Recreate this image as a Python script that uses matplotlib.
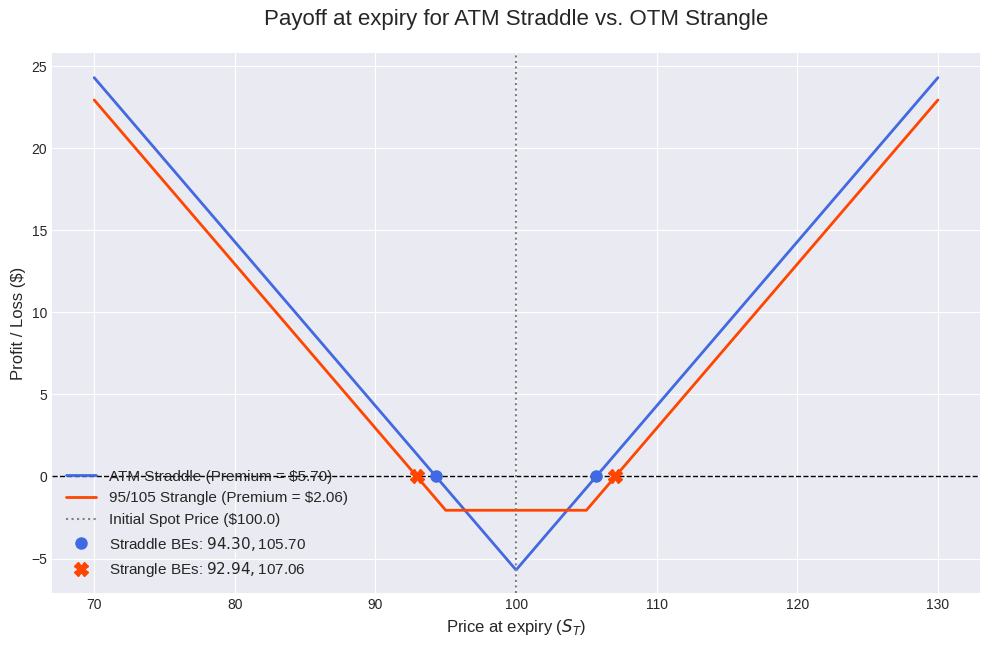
import numpy as np
import matplotlib as mp
mp.use('Agg')
import matplotlib.pyplot as plt

plt.style.use('seaborn-v0_8-darkgrid')
plt.rcParams['font.family'] = ['Liberation Sans', 'DejaVu Sans']

spot = 100.0
straddle_prem = 5.70
strangle_prem = 2.06

# payoff kinks
straddle_S = np.array([70., 100., 130.])
straddle_pl = np.array([24.30, -5.70, 24.30])
strangle_S = np.array([70., 95., 105., 130.])
strangle_pl = np.array([22.94, -2.06, -2.06, 22.94])

straddle_be = np.array([94.30, 105.70])
strangle_be = np.array([92.94, 107.06])

fig = plt.figure(figsize=(9.91, 6.47), dpi=100)
ax1 = plt.subplot(111)

ax1.plot(straddle_S, straddle_pl, color='royalblue', lw=2,
         label='ATM Straddle (Premium = $%.2f)' % straddle_prem)
ax1.plot(strangle_S, strangle_pl, color='orangered', lw=2,
         label='95/105 Strangle (Premium = $%.2f)' % strangle_prem)
ax1.axhline(0, color='black', ls='--', lw=1)
ax1.axvline(spot, color='grey', ls=':', lw=1.5,
            label='Initial Spot Price ($%.1f)' % spot)
ax1.plot(straddle_be, np.zeros(2), 'o', color='royalblue', ms=8, ls='none',
         label='Straddle BEs: $%.2f, $%.2f' % tuple(straddle_be))
ax1.plot(strangle_be, np.zeros(2), 'X', color='orangered', ms=10, ls='none',
         label='Strangle BEs: $%.2f, $%.2f' % tuple(strangle_be))

ax1.set_xlabel(r'Price at expiry ($S_T$)', fontsize=12)
ax1.set_ylabel('Profit / Loss ($)', fontsize=12)
ax1.set_title('Payoff at expiry for ATM Straddle vs. OTM Strangle', fontsize=16, pad=20)
ax1.set_xlim(67, 133)
ax1.set_ylim(-7.1, 25.8)
ax1.legend(loc='lower left', fontsize=11)

plt.subplots_adjust(left=0.0525, right=0.989, top=0.918, bottom=0.0835)
plt.savefig('out.png', dpi=100)
